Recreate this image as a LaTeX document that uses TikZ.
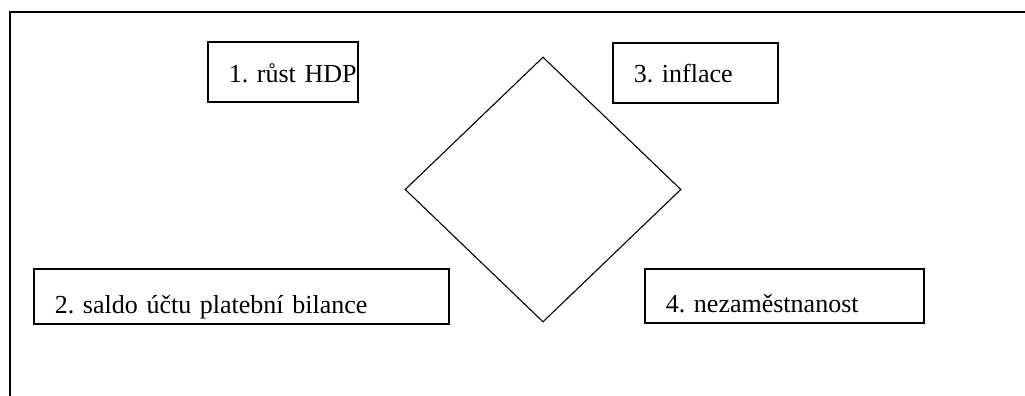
\documentclass[tikz,border=0pt]{standalone}
\usepackage{fontspec}
\setmainfont{Liberation Serif}
\usetikzlibrary{shapes.geometric}
\frenchspacing

\begin{document}
\begin{tikzpicture}[x=1pt, y=-1pt,
    box/.style = {draw, line width=1.6pt, inner xsep=0pt, inner ysep=0pt, align=left,
      anchor=north west, font=\fontsize{26}{30}\selectfont,
      execute at begin node=\hspace*{21pt}},
    rhomb/.style = {draw, diamond, line width=1.1pt, inner sep=0pt}]
  \useasboundingbox (0,0) rectangle (1025,396);
  % frame
  \draw[line width=1.8pt] (1025,12) -| (10,396);
  % boxes
  \node[box, text width=150pt, text height=41pt, text depth=19pt] (hdp) at (207,41) {1. růst HDP};
  \node[box, text width=165pt, text height=40pt, text depth=20pt] (infl) at (612,42) {3. inflace};
  \node[box, text width=415pt, text height=45pt, text depth=10pt] (saldo) at (33,268) {2. saldo účtu platební bilance};
  \node[box, text width=279pt, text height=44pt, text depth=10pt] (nez) at (644,268) {4. nezaměstnanost};
  % diamond
  \node[rhomb, minimum width=276pt, minimum height=265pt] (kos) at (543,189.5) {};
\end{tikzpicture}
\end{document}
